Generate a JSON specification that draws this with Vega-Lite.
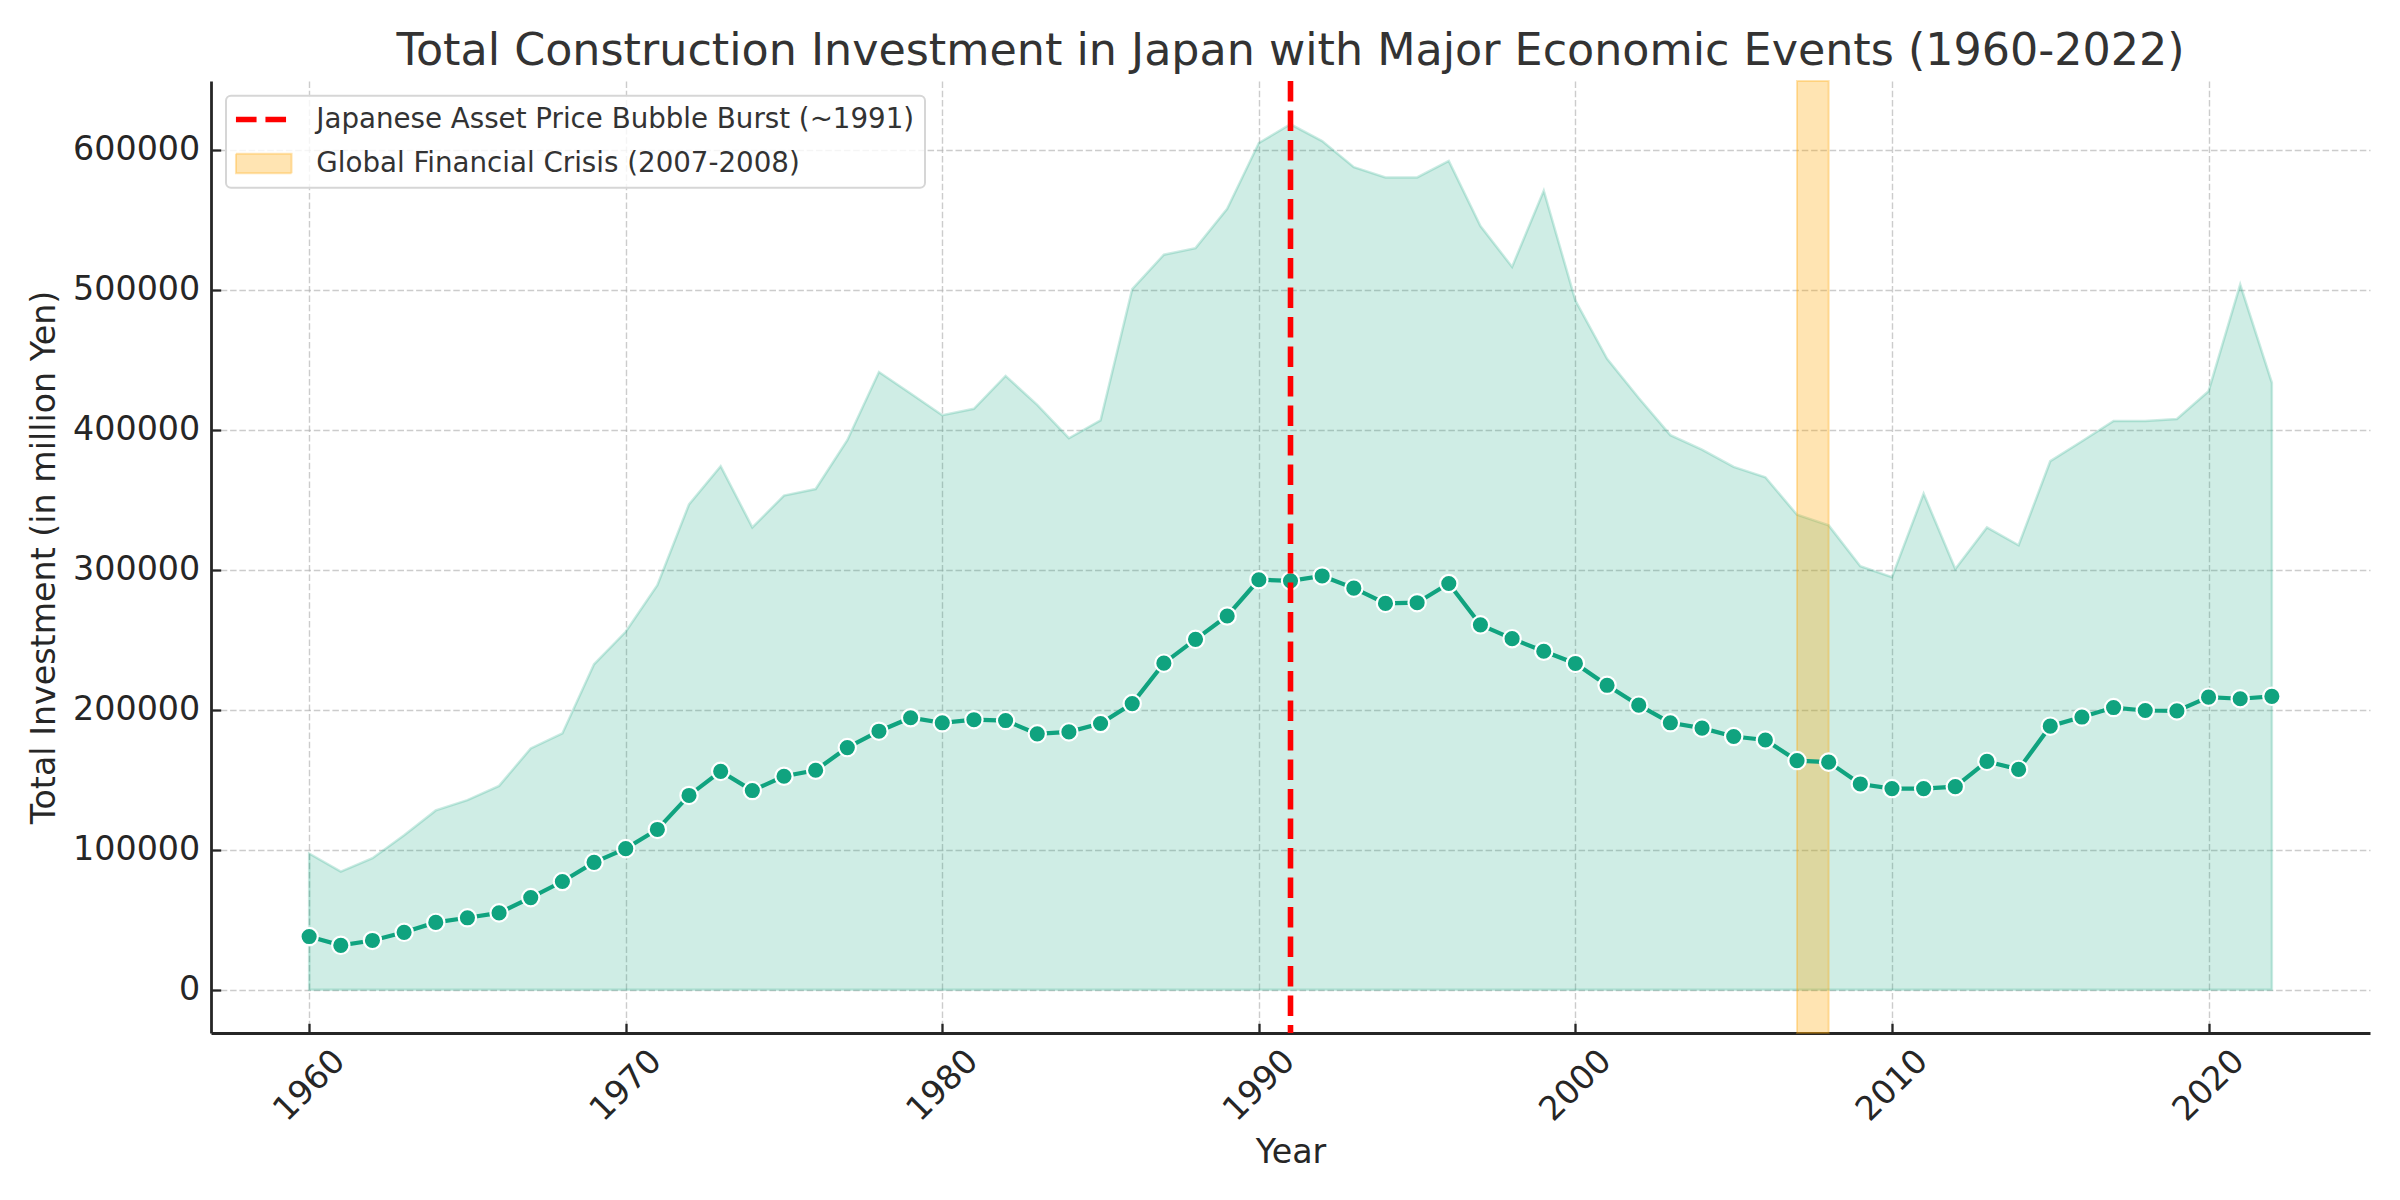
{
  "$schema": "https://vega.github.io/schema/vega-lite/v6.json",
  "width": 2159,
  "height": 952,
  "autosize": {"type": "none"},
  "padding": {"left": 211, "top": 81, "right": 30, "bottom": 167},
  "background": "white",
  "title": {
    "text": "Total Construction Investment in Japan with Major Economic Events (1960-2022)",
    "font": "DejaVu Sans",
    "fontSize": 44.4,
    "fontWeight": "normal",
    "color": "#333333",
    "anchor": "middle",
    "baseline": "alphabetic",
    "offset": 10,
    "dy": 41
  },
  "datasets": {
    "construction": [
      {"year": 1960, "investment": 38000, "shaded": 97300},
      {"year": 1961, "investment": 31700, "shaded": 84400},
      {"year": 1962, "investment": 35200, "shaded": 94000},
      {"year": 1963, "investment": 41000, "shaded": 110400},
      {"year": 1964, "investment": 48100, "shaded": 128100},
      {"year": 1965, "investment": 51400, "shaded": 135500},
      {"year": 1966, "investment": 54900, "shaded": 145600},
      {"year": 1967, "investment": 65800, "shaded": 172400},
      {"year": 1968, "investment": 77300, "shaded": 183100},
      {"year": 1969, "investment": 91000, "shaded": 232500},
      {"year": 1970, "investment": 100800, "shaded": 255700},
      {"year": 1971, "investment": 114500, "shaded": 289000},
      {"year": 1972, "investment": 138800, "shaded": 346700},
      {"year": 1973, "investment": 156000, "shaded": 374000},
      {"year": 1974, "investment": 142300, "shaded": 330300},
      {"year": 1975, "investment": 152500, "shaded": 353000},
      {"year": 1976, "investment": 156800, "shaded": 357700},
      {"year": 1977, "investment": 173000, "shaded": 392600},
      {"year": 1978, "investment": 184700, "shaded": 441300},
      {"year": 1979, "investment": 194300, "shaded": 426000},
      {"year": 1980, "investment": 190700, "shaded": 410400},
      {"year": 1981, "investment": 192900, "shaded": 415000},
      {"year": 1982, "investment": 192300, "shaded": 438500},
      {"year": 1983, "investment": 182800, "shaded": 417800},
      {"year": 1984, "investment": 184200, "shaded": 394000},
      {"year": 1985, "investment": 190200, "shaded": 406800},
      {"year": 1986, "investment": 204400, "shaded": 500500},
      {"year": 1987, "investment": 233300, "shaded": 525100},
      {"year": 1988, "investment": 250300, "shaded": 529800},
      {"year": 1989, "investment": 267000, "shaded": 557900},
      {"year": 1990, "investment": 292900, "shaded": 604900},
      {"year": 1991, "investment": 292100, "shaded": 618300},
      {"year": 1992, "investment": 295600, "shaded": 606300},
      {"year": 1993, "investment": 286900, "shaded": 587700},
      {"year": 1994, "investment": 276000, "shaded": 580300},
      {"year": 1995, "investment": 276500, "shaded": 580300},
      {"year": 1996, "investment": 290200, "shaded": 592100},
      {"year": 1997, "investment": 260700, "shaded": 545600},
      {"year": 1998, "investment": 250800, "shaded": 516400},
      {"year": 1999, "investment": 241800, "shaded": 570800},
      {"year": 2000, "investment": 233100, "shaded": 492300},
      {"year": 2001, "investment": 217500, "shaded": 450800},
      {"year": 2002, "investment": 203300, "shaded": 422700},
      {"year": 2003, "investment": 190700, "shaded": 396200},
      {"year": 2004, "investment": 186900, "shaded": 385800},
      {"year": 2005, "investment": 180900, "shaded": 373500},
      {"year": 2006, "investment": 178400, "shaded": 366100},
      {"year": 2007, "investment": 163700, "shaded": 339300},
      {"year": 2008, "investment": 162600, "shaded": 331700},
      {"year": 2009, "investment": 147000, "shaded": 302500},
      {"year": 2010, "investment": 143700, "shaded": 294800},
      {"year": 2011, "investment": 143700, "shaded": 354400},
      {"year": 2012, "investment": 145100, "shaded": 300500},
      {"year": 2013, "investment": 163100, "shaded": 330300},
      {"year": 2014, "investment": 157400, "shaded": 317500},
      {"year": 2015, "investment": 188300, "shaded": 377600},
      {"year": 2016, "investment": 194800, "shaded": 391800},
      {"year": 2017, "investment": 201600, "shaded": 406300},
      {"year": 2018, "investment": 199500, "shaded": 406300},
      {"year": 2019, "investment": 199200, "shaded": 407700},
      {"year": 2020, "investment": 209000, "shaded": 427600},
      {"year": 2021, "investment": 207900, "shaded": 503800},
      {"year": 2022, "investment": 209600, "shaded": 433600}
    ],
    "events": [
      {"event": "Japanese Asset Price Bubble Burst (~1991)", "kind": "line", "start": 1991, "end": 1991},
      {"event": "Global Financial Crisis (2007-2008)", "kind": "span", "start": 2007, "end": 2008}
    ]
  },
  "encoding": {
    "x": {
      "field": "year",
      "type": "quantitative",
      "scale": {"domain": [1956.9, 2025.1], "nice": false, "zero": false},
      "axis": {
        "title": "Year",
        "values": [1960, 1970, 1980, 1990, 2000, 2010, 2020],
        "format": "d",
        "labelAngle": -45,
        "labelAlign": "center",
        "labelBaseline": "middle",
        "labelPadding": 62,
        "titleX": 1079.5,
        "titleY": 129.4,
        "titleBaseline": "alphabetic",
        "titleAlign": "center"
      }
    }
  },
  "layer": [
    {
      "data": {"name": "construction"},
      "mark": {
        "type": "area",
        "color": "#10a37f",
        "fillOpacity": 0.2,
        "stroke": "#10a37f",
        "strokeOpacity": 0.22,
        "strokeWidth": 2.5
      },
      "encoding": {
        "y": {
          "field": "shaded",
          "type": "quantitative",
          "scale": {"domain": [-30915, 649215], "nice": false, "zero": false},
          "axis": {
            "title": "Total Investment (in million Yen)",
            "values": [0, 100000, 200000, 300000, 400000, 500000, 600000],
            "format": "d",
            "labelPadding": 21,
            "titleX": -157,
            "titleY": 476,
            "titleAngle": -90,
            "titleBaseline": "alphabetic",
            "titleAlign": "center"
          }
        },
        "y2": {"datum": 0}
      }
    },
    {
      "data": {"name": "events"},
      "transform": [{"filter": "datum.kind == 'span'"}],
      "mark": {
        "type": "rect",
        "fillOpacity": 0.3,
        "stroke": "#ffa500",
        "strokeOpacity": 0.3,
        "strokeWidth": 2
      },
      "encoding": {
        "x": {"field": "start", "type": "quantitative"},
        "x2": {"field": "end"},
        "color": {
          "field": "event",
          "type": "nominal",
          "scale": {
            "domain": ["Japanese Asset Price Bubble Burst (~1991)", "Global Financial Crisis (2007-2008)"],
            "range": ["#ff0000", "#ffa500"]
          },
          "legend": {
            "title": null,
            "orient": "none",
            "legendX": 15,
            "legendY": 14.7,
            "direction": "vertical",
            "padding": 10,
            "fillColor": "rgba(255,255,255,0.8)",
            "strokeColor": "#d6d6d6",
            "cornerRadius": 5,
            "symbolSize": 400,
            "symbolOffset": 13.9,
            "symbolStrokeWidth": 2,
            "labelFont": "DejaVu Sans",
            "labelFontSize": 27.7,
            "labelColor": "#333333",
            "labelLimit": 0,
            "labelOffset": 38.7,
            "rowPadding": 15,
            "encode": {
              "legend": {"update": {"strokeWidth": {"value": 2}}},
              "symbols": {
                "update": {
                  "shape": {"signal": "datum.value == 'Japanese Asset Price Bubble Burst (~1991)' ? 'M-2.78,0H2.78' : 'M-2.78,-0.97H2.78V0.97H-2.78Z'"},
                  "fill": {"signal": "datum.value == 'Japanese Asset Price Bubble Burst (~1991)' ? 'transparent' : '#ffa500'"},
                  "fillOpacity": {"signal": "datum.value == 'Japanese Asset Price Bubble Burst (~1991)' ? 0 : 0.3"},
                  "stroke": {"signal": "datum.value == 'Japanese Asset Price Bubble Burst (~1991)' ? '#ff0000' : '#ffa500'"},
                  "strokeOpacity": {"signal": "datum.value == 'Japanese Asset Price Bubble Burst (~1991)' ? 1 : 0.3"},
                  "strokeWidth": {"signal": "datum.value == 'Japanese Asset Price Bubble Burst (~1991)' ? 5.6 : 2"},
                  "strokeDash": {"signal": "datum.value == 'Japanese Asset Price Bubble Burst (~1991)' ? [20.6, 8.9] : [1, 0]"},
                  "opacity": {"value": 1}
                }
              }
            }
          }
        }
      }
    },
    {
      "data": {"name": "construction"},
      "mark": {"type": "line", "color": "#10a37f", "strokeWidth": 4.2},
      "encoding": {
        "y": {"field": "investment", "type": "quantitative"}
      }
    },
    {
      "data": {"name": "construction"},
      "mark": {
        "type": "point",
        "shape": "circle",
        "filled": true,
        "fill": "#10a37f",
        "fillOpacity": 1,
        "stroke": "white",
        "strokeWidth": 2.2,
        "strokeOpacity": 1,
        "size": 300
      },
      "encoding": {
        "y": {"field": "investment", "type": "quantitative"}
      }
    },
    {
      "data": {"name": "events"},
      "transform": [{"filter": "datum.kind == 'line'"}],
      "mark": {"type": "rule", "strokeWidth": 5.6, "strokeDash": [20.6, 8.9]},
      "encoding": {
        "x": {"field": "start", "type": "quantitative"},
        "color": {
          "field": "event",
          "type": "nominal",
          "scale": {
            "domain": ["Japanese Asset Price Bubble Burst (~1991)", "Global Financial Crisis (2007-2008)"],
            "range": ["#ff0000", "#ffa500"]
          },
          "legend": {
            "title": null,
            "orient": "none",
            "legendX": 15,
            "legendY": 14.7,
            "direction": "vertical",
            "padding": 10,
            "fillColor": "rgba(255,255,255,0.8)",
            "strokeColor": "#d6d6d6",
            "cornerRadius": 5,
            "symbolSize": 400,
            "symbolOffset": 13.9,
            "symbolStrokeWidth": 2,
            "labelFont": "DejaVu Sans",
            "labelFontSize": 27.7,
            "labelColor": "#333333",
            "labelLimit": 0,
            "labelOffset": 38.7,
            "rowPadding": 15,
            "encode": {
              "legend": {"update": {"strokeWidth": {"value": 2}}},
              "symbols": {
                "update": {
                  "shape": {"signal": "datum.value == 'Japanese Asset Price Bubble Burst (~1991)' ? 'M-2.78,0H2.78' : 'M-2.78,-0.97H2.78V0.97H-2.78Z'"},
                  "fill": {"signal": "datum.value == 'Japanese Asset Price Bubble Burst (~1991)' ? 'transparent' : '#ffa500'"},
                  "fillOpacity": {"signal": "datum.value == 'Japanese Asset Price Bubble Burst (~1991)' ? 0 : 0.3"},
                  "stroke": {"signal": "datum.value == 'Japanese Asset Price Bubble Burst (~1991)' ? '#ff0000' : '#ffa500'"},
                  "strokeOpacity": {"signal": "datum.value == 'Japanese Asset Price Bubble Burst (~1991)' ? 1 : 0.3"},
                  "strokeWidth": {"signal": "datum.value == 'Japanese Asset Price Bubble Burst (~1991)' ? 5.6 : 2"},
                  "strokeDash": {"signal": "datum.value == 'Japanese Asset Price Bubble Burst (~1991)' ? [20.6, 8.9] : [1, 0]"},
                  "opacity": {"value": 1}
                }
              }
            }
          }
        }
      }
    }
  ],
  "config": {
    "view": {"stroke": null},
    "axis": {
      "grid": true,
      "gridColor": "#b0b0b0",
      "gridOpacity": 0.65,
      "gridWidth": 1.4,
      "gridDash": [6.5, 2.8],
      "domainColor": "#262626",
      "domainWidth": 2.8,
      "tickColor": "#262626",
      "tickWidth": 2.3,
      "tickSize": -9.7,
      "labelFont": "DejaVu Sans",
      "labelFontSize": 33.3,
      "labelColor": "#262626",
      "labelOverlap": false,
      "labelFlush": false,
      "titleFont": "DejaVu Sans",
      "titleFontSize": 33.3,
      "titleFontWeight": "normal",
      "titleColor": "#262626"
    }
  }
}
